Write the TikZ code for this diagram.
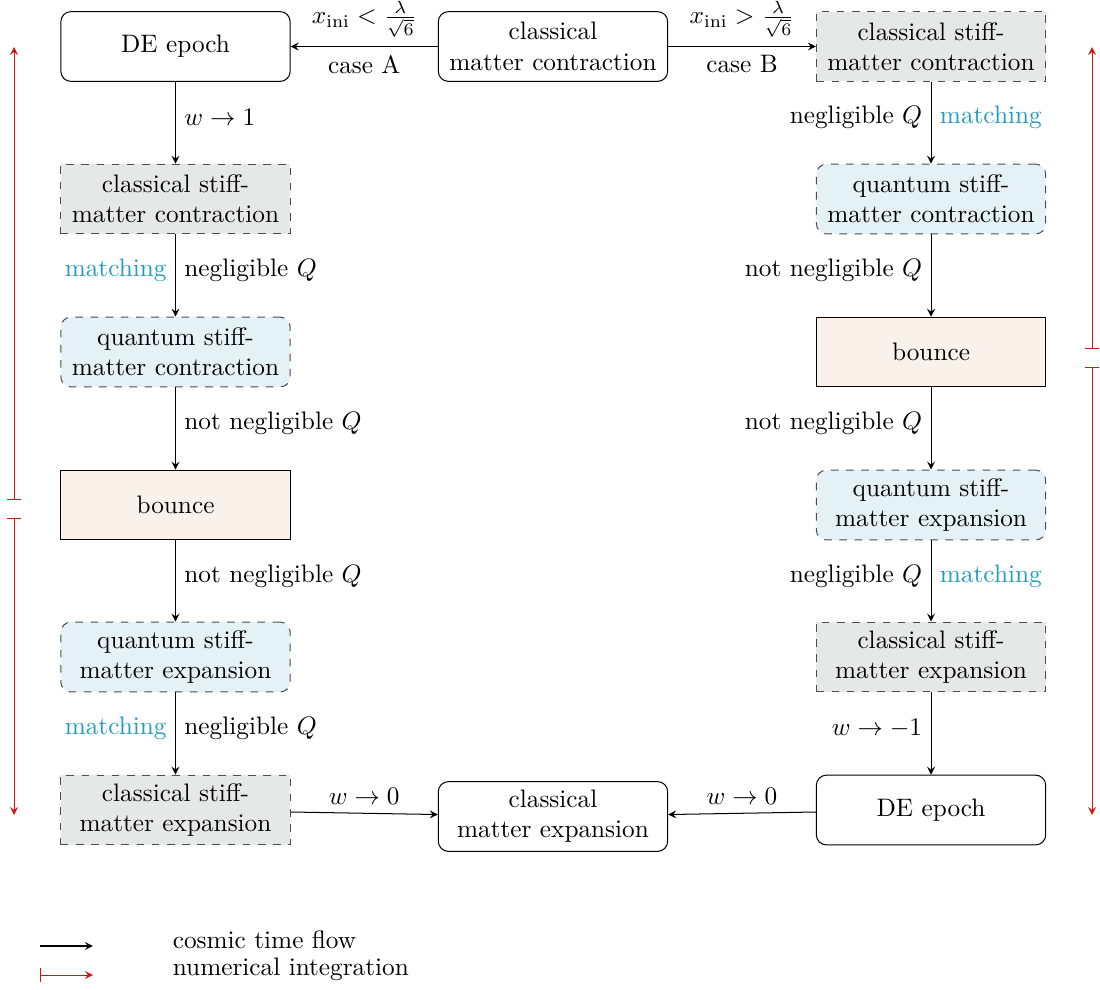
\documentclass[tikz,border=0pt]{standalone}
\usetikzlibrary{positioning}

\definecolor{clstiff}{RGB}{228,233,231}
\definecolor{qustiff}{RGB}{228,241,246}
\definecolor{bnc}{RGB}{250,241,235}
\definecolor{matchcol}{RGB}{32,156,190}
\definecolor{integcol}{RGB}{210,20,20}

\tikzset{
  box/.style={draw, align=center, minimum width=3.19cm, minimum height=0.97cm},
  classic/.style={box, rounded corners},
  clstiffbox/.style={box, dashed, draw=black!70, fill=clstiff},
  qustiffbox/.style={box, dashed, draw=black!70, fill=qustiff, rounded corners},
  bouncebox/.style={box, fill=bnc},
  flow/.style={->},
  vflow/.style={->, every node/.style={yshift=2pt}},
  integ/.style={|->, integcol},
  matching/.style={text=matchcol},
}

\begin{document}
\begin{tikzpicture}[>=stealth]
\useasboundingbox (0,0) rectangle (15.299,-13.769);
\def\xl{2.441} \def\xm{7.691} \def\xr{12.949}

% centre column
\node[classic] (cmc) at (\xm,-0.647) {classical\\matter contraction};
\node[classic] (cme) at (\xm,-11.356) {classical\\matter expansion};

% case A
\node[classic] (deA) at (\xl,-0.647) {DE epoch};
\node[clstiffbox] (cscA) at (\xl,-2.768) {classical stiff-\\matter contraction};
\node[qustiffbox] (qscA) at (\xl,-4.896) {quantum stiff-\\matter contraction};
\node[bouncebox] (bA) at (\xl,-7.024) {bounce};
\node[qustiffbox] (qseA) at (\xl,-9.138) {quantum stiff-\\matter expansion};
\node[clstiffbox] (cseA) at (\xl,-11.266) {classical stiff-\\matter expansion};

% case B
\node[clstiffbox] (cscB) at (\xr,-0.647) {classical stiff-\\matter contraction};
\node[qustiffbox] (qscB) at (\xr,-2.768) {quantum stiff-\\matter contraction};
\node[bouncebox] (bB) at (\xr,-4.896) {bounce};
\node[qustiffbox] (qseB) at (\xr,-7.024) {quantum stiff-\\matter expansion};
\node[clstiffbox] (cseB) at (\xr,-9.138) {classical stiff-\\matter expansion};
\node[classic] (deB) at (\xr,-11.266) {DE epoch};

\draw[flow] (cmc) -- node[above]{$x_{\mathrm{ini}}<\frac{\lambda}{\sqrt{6}}$} node[below]{case A} (deA);
\draw[vflow] (deA) -- node[right]{$w\to 1$} (cscA);
\draw[vflow] (cscA) -- node[left,matching]{matching} node[right]{negligible $Q$} (qscA);
\draw[vflow] (qscA) -- node[right]{not negligible $Q$} (bA);
\draw[vflow] (bA) -- node[right]{not negligible $Q$} (qseA);
\draw[vflow] (qseA) -- node[left,matching]{matching} node[right]{negligible $Q$} (cseA);
\draw[flow] (cseA) -- node[above]{$w\to 0$} (cme);

\draw[flow] (cmc) -- node[above]{$x_{\mathrm{ini}}>\frac{\lambda}{\sqrt{6}}$} node[below]{case B} (cscB);
\draw[vflow] (cscB) -- node[left]{negligible $Q$} node[right,matching]{matching} (qscB);
\draw[vflow] (qscB) -- node[left]{not negligible $Q$} (bB);
\draw[vflow] (bB) -- node[left]{not negligible $Q$} (qseB);
\draw[vflow] (qseB) -- node[left]{negligible $Q$} node[right,matching]{matching} (cseB);
\draw[vflow] (cseB) -- node[left]{$w\to -1$} (deB);
\draw[flow] (deB) -- node[above]{$w\to 0$} (cme);

% numerical integration
\coordinate (iAtop) at (0.195,-0.654);
\coordinate (iAup) at (0.195,-6.954);
\coordinate (iAdn) at (0.195,-7.205);
\coordinate (iAbot) at (0.195,-11.335);
\coordinate (iBtop) at (15.188,-0.654);
\coordinate (iBup) at (15.188,-4.854);
\coordinate (iBdn) at (15.188,-5.104);
\coordinate (iBbot) at (15.188,-11.335);
\draw[integ] (iAup) -- (iAtop);
\draw[integ] (iAdn) -- (iAbot);
\draw[integ] (iBup) -- (iBtop);
\draw[integ] (iBdn) -- (iBbot);

% legend
\coordinate (lga) at (0.556,-13.157);
\coordinate (lgb) at (1.293,-13.157);
\coordinate (lgc) at (0.556,-13.561);
\coordinate (lgd) at (1.293,-13.561);
\draw[flow] (lga) -- (lgb);
\draw[integ] (lgc) -- (lgd);
\node[anchor=west] (lgtime) at (2.28,-13.074) {cosmic time flow};
\node[anchor=west] (lgnum) at (2.28,-13.477) {numerical integration};
\end{tikzpicture}
\end{document}
